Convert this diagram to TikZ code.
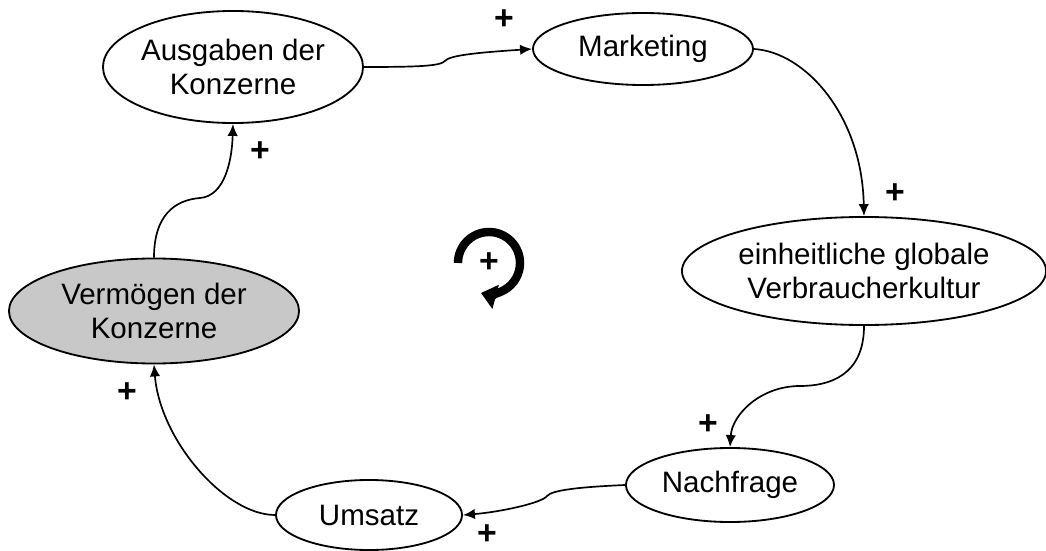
\documentclass[tikz,border=0pt]{standalone}
\usepackage{fontspec}
\setmainfont{Liberation Sans}
\usetikzlibrary{shapes.geometric, arrows, arrows.meta}
\definecolor{stockgray}{RGB}{200,200,200}
\tikzstyle{var} = [ellipse, draw=black, line width=1.3pt, inner sep=0pt, align=center, font=\fontsize{21}{24}\selectfont]
\tikzstyle{stock} = [var, fill=stockgray]
\tikzstyle{arrow} = [line width=1.2pt,-{Latex[length=3mm,width=2.6mm]}]
\tikzstyle{pol} = [font=\fontsize{24}{24}\selectfont\bfseries, inner sep=0pt]

\begin{document}
\begin{tikzpicture}[x=0.025cm, y=-0.025cm]
\useasboundingbox (0,0) rectangle (1046,551);

\node (ausgaben) [var, minimum width=6.4cm, minimum height=2.8cm] at (233,67) {Ausgaben der\\Konzerne};
\node (marketing) [var, minimum width=5.5cm, minimum height=1.8cm] at (643,49) {Marketing};
\node (kultur) [var, minimum width=9.1cm, minimum height=2.7cm] at (864,271) {einheitliche globale\\Verbraucherkultur};
\node (nachfrage) [var, minimum width=5.2cm, minimum height=1.85cm] at (730,485) {Nachfrage};
\node (umsatz) [var, minimum width=4.65cm, minimum height=1.75cm] at (369,515) {Umsatz};
\node (vermoegen) [stock, minimum width=7.25cm, minimum height=2.625cm] at (154,311) {Vermögen der\\Konzerne};

\draw [arrow] (ausgaben.east) .. controls (420,67) and (440,66) .. (445,61) .. controls (449,56) and (470,53) .. (marketing.west);
\draw [arrow] (marketing.east) .. controls (805,52) and (862,115) .. (kultur.north);
\draw [arrow] (kultur.south) .. controls (864,375) and (830,386) .. (800,386) .. controls (760,386) and (732,415) .. (nachfrage.north);
\draw [arrow] (nachfrage.west) .. controls (580,487) and (552,490) .. (547,496) .. controls (542,503) and (500,512) .. (umsatz.east);
\draw [arrow] (umsatz.west) .. controls (225,515) and (160,440) .. (vermoegen.south);
\draw [arrow] (vermoegen.north) .. controls (154,215) and (175,200) .. (200,198) .. controls (225,196) and (232,160) .. (ausgaben.south);

% polarities
\node (p1) [pol] at (504,20) {+};
\node (p2) [pol] at (895,194) {+};
\node (p3) [pol] at (708,425) {+};
\node (p4) [pol] at (487,535) {+};
\node (p5) [pol] at (127,393) {+};
\node (p6) [pol] at (260,152) {+};

% loop symbol
\coordinate (loop) at (489,263);
\draw [line width=6pt, -{Triangle[length=3.8mm,width=6mm]}] ([shift={(180:0.775cm)}]loop) arc (180:-105:0.775cm);
\node (looppol) [pol] at (loop) {+};

\end{tikzpicture}
\end{document}
